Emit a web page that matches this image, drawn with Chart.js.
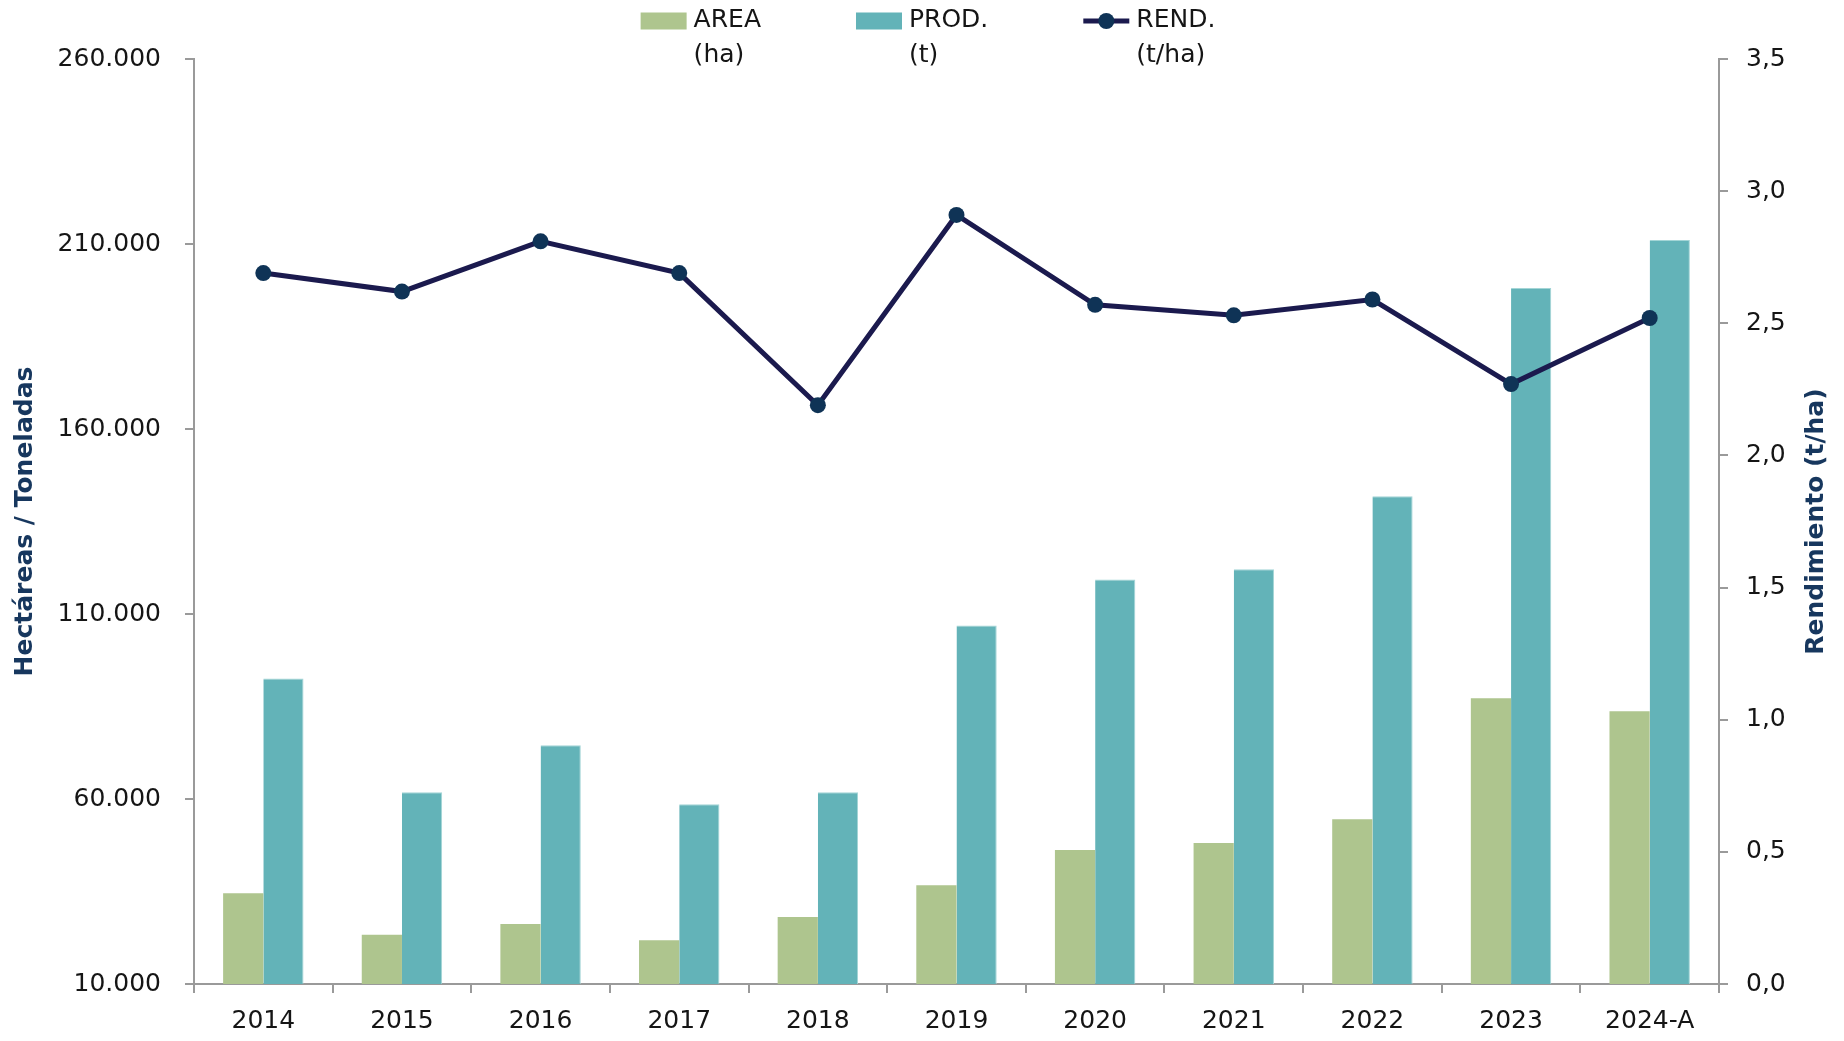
<!DOCTYPE html>
<html><head><meta charset="utf-8">
<script src="https://cdn.jsdelivr.net/npm/chart.js@4.4.1/dist/chart.umd.min.js"></script>
<style>html,body{margin:0;padding:0;background:#fff;} #wrap{width:1844px;height:1041px;position:relative;}</style>
</head><body><div id="wrap"><canvas id="c" width="1844" height="1041"></canvas></div>
<script>
const categories = ['2014', '2015', '2016', '2017', '2018', '2019', '2020', '2021', '2022', '2023', '2024-A'];
const areaHa = [34500, 23300, 26200, 21800, 28100, 36700, 46200, 48100, 54500, 87200, 83700];
const prodT = [92600, 61800, 74500, 58600, 61800, 106900, 119300, 122100, 141800, 198100, 211100];
const rendTHa = [2.69, 2.62, 2.81, 2.69, 2.19, 2.91, 2.57, 2.53, 2.59, 2.27, 2.52];
const leftTicks = [10000, 60000, 110000, 160000, 210000, 260000];
const rightTicks = [0, 0.5, 1.0, 1.5, 2.0, 2.5, 3.0, 3.5];
const seriesLabels = [['AREA', '(ha)'], ['PROD.', '(t)'], ['REND.', '(t/ha)']];
const leftTitle = 'Hectáreas / Toneladas';
const rightTitle = 'Rendimiento (t/ha)';

const C_AREA = '#aec58e', C_PROD = '#63b3b8', C_LINE = '#1b1a4e', C_POINT = '#0f3356';
const C_AXIS = '#9a9a9a', C_TITLE = '#17375e', C_TEXT = '#151515';
const FONT = 'DejaVu Sans';

function fmtThousands(v) { return String(Math.round(v)).replace(/\B(?=(\d{3})+(?!\d))/g, '.'); }
function fmtDec(v) { return v.toFixed(1).replace('.', ','); }

const legendPlugin = {
  id: 'customLegend',
  afterDraw(chart) {
    const ctx = chart.ctx;
    ctx.save();
    ctx.font = '25px "' + FONT + '"';
    ctx.textBaseline = 'middle';
    ctx.textAlign = 'left';
    const boxW = 46, boxH = 17, gapText = 7, gapItem = 95, line1 = 20, lh = 35;
    const ds = chart.data.datasets;
    const widths = ds.map(d => boxW + gapText + Math.max(...d.label.map(t => ctx.measureText(t).width)));
    const total = widths.reduce((a, b) => a + b, 0) + gapItem * (ds.length - 1);
    let x = chart.width / 2 + 6 - total / 2;
    ds.forEach((d, i) => {
      const cy = line1 + 1;
      if (d.type === 'line') {
        ctx.strokeStyle = C_LINE; ctx.lineWidth = 5;
        ctx.beginPath(); ctx.moveTo(x, cy); ctx.lineTo(x + boxW, cy); ctx.stroke();
        ctx.fillStyle = C_POINT;
        ctx.beginPath(); ctx.arc(x + boxW / 2, cy, 8, 0, Math.PI * 2); ctx.fill();
      } else {
        ctx.fillStyle = d.backgroundColor;
        ctx.fillRect(x, cy - boxH / 2, boxW, boxH);
      }
      ctx.fillStyle = C_TEXT;
      d.label.forEach((t, k) => ctx.fillText(t, x + boxW + gapText, line1 + k * lh));
      x += widths[i] + gapItem;
    });
    // right axis title, reading bottom-to-top
    const a = chart.chartArea;
    ctx.font = 'bold 25px "' + FONT + '"';
    ctx.fillStyle = C_TITLE;
    ctx.textAlign = 'center';
    ctx.translate(chart.scales.y1.right - 15, (a.top + a.bottom) / 2);
    ctx.rotate(-Math.PI / 2);
    ctx.fillText(rightTitle, 0, 0);
    ctx.restore();
  }
};

new Chart(document.getElementById('c'), {
  type: 'bar',
  data: {
    labels: categories,
    datasets: [
      { label: seriesLabels[0], data: areaHa, yAxisID: 'y', order: 1, backgroundColor: C_AREA,
        categoryPercentage: 0.58, barPercentage: 1.0 },
      { label: seriesLabels[1], data: prodT, yAxisID: 'y', order: 2, backgroundColor: C_PROD,
        borderColor: '#a3d5d6', borderWidth: { top: 1, right: 1, left: 0, bottom: 0 },
        categoryPercentage: 0.58, barPercentage: 1.0 },
      { type: 'line', label: seriesLabels[2], data: rendTHa, yAxisID: 'y1', order: 0,
        borderColor: C_LINE, borderWidth: 5, backgroundColor: C_POINT,
        pointRadius: 8, pointBackgroundColor: C_POINT, pointBorderColor: C_POINT, pointBorderWidth: 0, tension: 0 }
    ]
  },
  options: {
    responsive: false,
    animation: false,
    layout: { padding: { top: 59, left: 10, right: 13, bottom: 5 } },
    plugins: { legend: { display: false }, tooltip: { enabled: false } },
    scales: {
      x: {
        offset: true,
        grid: { display: true, drawOnChartArea: false, drawTicks: true, tickLength: 9, color: C_AXIS, lineWidth: 2, offset: true },
        border: { display: true, color: C_AXIS, width: 2 },
        ticks: { font: { family: FONT, size: 25 }, color: C_TEXT, padding: 13, maxRotation: 0 },
        afterFit(s) { s.height = 52; }
      },
      y: {
        position: 'left', min: 10000, max: 260000,
        grid: { display: true, drawOnChartArea: false, drawTicks: true, tickLength: 9, color: C_AXIS, lineWidth: 2 },
        border: { display: true, color: C_AXIS, width: 2 },
        ticks: { font: { family: FONT, size: 25 }, color: C_TEXT, padding: 24, callback: v => fmtThousands(v) },
        afterBuildTicks(s) { s.ticks = leftTicks.map(v => ({ value: v })); },
        title: { display: true, text: leftTitle, color: C_TITLE, font: { family: FONT, size: 25, weight: 'bold' }, padding: { top: 0, bottom: 0 } },
        afterFit(s) { s.width = 184; }
      },
      y1: {
        position: 'right', min: 0, max: 3.5,
        grid: { display: true, drawOnChartArea: false, drawTicks: true, tickLength: 9, color: C_AXIS, lineWidth: 2 },
        border: { display: true, color: C_AXIS, width: 2 },
        ticks: { font: { family: FONT, size: 25 }, color: C_TEXT, padding: 18, callback: v => fmtDec(v) },
        afterBuildTicks(s) { s.ticks = rightTicks.map(v => ({ value: v })); },
        title: { display: false, text: rightTitle },
        afterFit(s) { s.width = 112; }
      }
    }
  },
  plugins: [legendPlugin]
});
</script>
</body></html>
